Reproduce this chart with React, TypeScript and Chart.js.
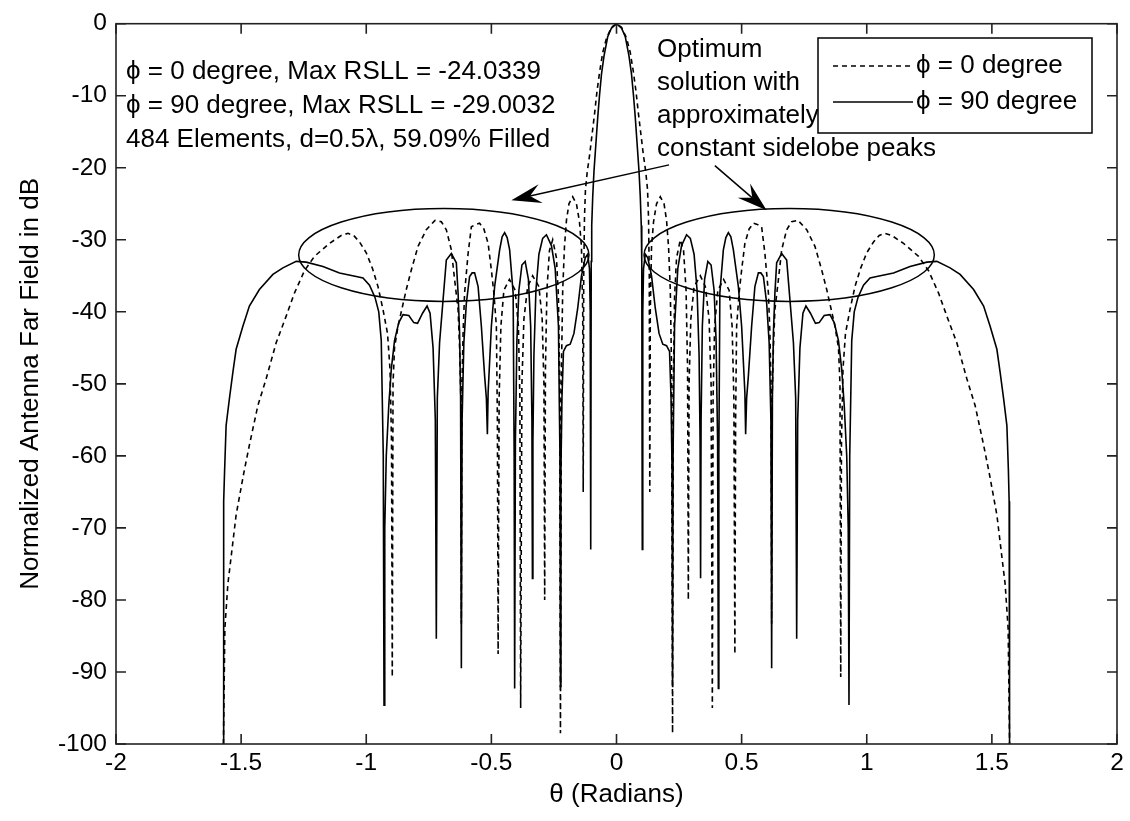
import React, { useEffect, useRef } from 'react';
import { Chart, registerables } from 'chart.js';

Chart.register(...registerables);

// ---- Data (right half, theta >= 0; the pattern is symmetric about theta = 0) ----
const thetaPhi0: number[] = [
  0, 0.02, 0.04, 0.055, 0.067, 0.078, 0.087, 0.097, 0.107, 0.117, 0.124, 0.128, 0.131, 0.133,
  0.135, 0.14, 0.148, 0.16, 0.175, 0.19, 0.2, 0.208, 0.215, 0.22, 0.224,
  0.227, 0.232, 0.24, 0.255, 0.268, 0.278, 0.284, 0.287,
  0.29, 0.297, 0.31, 0.335, 0.355, 0.37, 0.378, 0.383,
  0.386, 0.392, 0.405, 0.428, 0.45, 0.462, 0.469, 0.473,
  0.476, 0.48, 0.49, 0.5, 0.513, 0.53, 0.547, 0.565, 0.58, 0.593, 0.607, 0.613, 0.618, 0.62,
  0.622, 0.627, 0.633, 0.647, 0.66, 0.68, 0.7, 0.725, 0.76, 0.793, 0.82, 0.84, 0.873, 0.887, 0.893, 0.896,
  0.899, 0.905, 0.915, 0.933, 0.953, 0.975, 1.0, 1.027, 1.05, 1.073, 1.1, 1.147, 1.207, 1.247, 1.287,
  1.32, 1.36, 1.4, 1.433, 1.467, 1.49, 1.52, 1.553, 1.565, 1.5708,
];
const dbPhi0: number[] = [
  0, -0.5, -2, -4, -6.6, -9.4, -12.3, -15.2, -18.1, -20.6, -23, -27, -35, -65,
  -40, -31, -27.5, -25, -24.03, -25, -27.3, -31, -37, -48, -98.5,
  -50, -38, -32.5, -30, -31.5, -37, -48, -80,
  -50, -41, -36.5, -35, -36.5, -41, -50, -95,
  -52, -42, -37, -35.5, -37, -42, -52, -87.5,
  -55, -42, -37.4, -34.2, -30.5, -28.5, -27.7, -27.9, -28.2, -31.9, -37.4, -42.9, -51, -83.3,
  -52, -45, -39.7, -35.5, -31.4, -28.6, -27.5, -27.3, -28.6, -30.9, -34.2, -36.9, -42, -45, -50, -90.7,
  -58, -48, -43, -39.7, -36.5, -34, -31.8, -30.3, -29.4, -29.1, -29.4, -30.5, -32.3, -34.3, -37.4,
  -40.6, -44.3, -49.3, -53, -58.5, -62.5, -68.2, -77.8, -84, -100,
];
const thetaPhi90: number[] = [
  0, 0.02, 0.035, 0.05, 0.06, 0.068, 0.075, 0.082, 0.09, 0.095, 0.099, 0.101, 0.103,
  0.105, 0.108, 0.115, 0.125, 0.14, 0.155, 0.17, 0.185, 0.2, 0.212, 0.218, 0.222, 0.224,
  0.226, 0.232, 0.245, 0.26, 0.28, 0.295, 0.31, 0.322, 0.33, 0.334, 0.336,
  0.338, 0.343, 0.352, 0.365, 0.378, 0.39, 0.398, 0.404, 0.407,
  0.409, 0.413, 0.427, 0.437, 0.447, 0.457, 0.467, 0.487, 0.5, 0.513, 0.516,
  0.52, 0.527, 0.54, 0.553, 0.567, 0.577, 0.587, 0.6, 0.61, 0.617, 0.62,
  0.623, 0.627, 0.633, 0.64, 0.66, 0.68, 0.693, 0.707, 0.716, 0.72,
  0.724, 0.733, 0.745, 0.757, 0.775, 0.795, 0.81, 0.83, 0.853, 0.87, 0.887, 0.9, 0.91, 0.92, 0.926, 0.929,
  0.932, 0.94, 0.95, 0.965, 0.987, 1.013, 1.04, 1.107, 1.173, 1.24, 1.28, 1.333, 1.373, 1.427,
  1.467, 1.493, 1.52, 1.533, 1.547, 1.56, 1.566, 1.569, 1.5705, 1.5708,
];
const dbPhi90: number[] = [
  0, -0.6, -1.8, -4.5, -7, -10, -13, -16.5, -20.5, -24, -28, -33, -73,
  -40, -34, -32, -32.5, -35, -39.5, -43, -44.5, -44.7, -45.5, -52, -62, -92,
  -60, -42, -34, -30.8, -29.3, -29.8, -32, -37, -46, -58, -77,
  -55, -42, -35.5, -33, -33.5, -37, -44, -58, -92.3,
  -60, -37.4, -31.4, -29.7, -29, -29.6, -31.4, -36.5, -42, -51.2, -57,
  -52, -48.9, -42, -36.5, -34.6, -34.6, -35.1, -38.8, -44.3, -55, -89.5,
  -52, -42.9, -37.4, -33.2, -31.9, -32.8, -38.3, -44.3, -52, -85.4,
  -55, -45, -40.2, -39.2, -40.2, -41.6, -41.5, -40.5, -40.4, -41.5, -44, -48, -53, -60, -70, -94.6,
  -60, -44, -40, -38, -36.3, -35.3, -35.1, -34.6, -33.7, -33.1, -33, -33.9, -34.8, -36.9,
  -39.2, -42, -45.2, -48.4, -52.1, -55.8, -62, -66.3, -80, -100,
];

const xTickValues: number[] = [-2, -1.5, -1, -0.5, 0, 0.5, 1, 1.5, 2];
const yTickValues: number[] = [0, -10, -20, -30, -40, -50, -60, -70, -80, -90, -100];
const seriesLabels: string[] = ['ϕ = 0 degree', 'ϕ = 90 degree'];
const xTitle = 'θ (Radians)';
const yTitle = 'Normalized Antenna Far Field in dB';
const infoLines: string[] = [
  'ϕ = 0 degree, Max RSLL = -24.0339',
  'ϕ = 90 degree, Max RSLL = -29.0032',
  '484 Elements, d=0.5λ, 59.09% Filled',
];
const noteLines: string[] = ['Optimum', 'solution with', 'approximately', 'constant sidelobe peaks'];

// annotation geometry in data units (theta, dB)
const ellipseCenterTheta: number[] = [-0.69, 0.69];
const ellipseCenterDb = -32.1;
const ellipseHalfTheta = 0.58;
const ellipseHalfDb = 6.45;
const arrowFromTheta: number[] = [0.21, 0.393];
const arrowFromDb: number[] = [-19.6, -19.7];
const arrowToTheta: number[] = [-0.42, 0.6];
const arrowToDb: number[] = [-24.5, -25.9];

const FONT = '"Liberation Sans", Arial, "DejaVu Sans", sans-serif';
const TICK_FS = 24.5;
const TEXT_FS = 26;
const TITLE_FS = 26;
const INK = '#000';

function mirrored(xs: number[], ys: number[]) {
  const pts: { x: number; y: number }[] = [];
  for (let i = xs.length - 1; i >= 1; i--) pts.push({ x: -xs[i], y: ys[i] });
  for (let i = 0; i < xs.length; i++) pts.push({ x: xs[i], y: ys[i] });
  return pts;
}

const matlabPlugin = {
  id: 'matlabDecor',
  afterDatasetsDraw(chart: any) {
    const { ctx, chartArea: a, scales } = chart;
    const xs = scales.x;
    const ys = scales.y;
    const X = (v: number) => xs.getPixelForValue(v);
    const Y = (v: number) => ys.getPixelForValue(v);
    ctx.save();

    // ellipses
    ctx.strokeStyle = INK;
    ctx.lineWidth = 1.5;
    for (let i = 0; i < ellipseCenterTheta.length; i++) {
      const cx = X(ellipseCenterTheta[i]);
      const cy = Y(ellipseCenterDb);
      const rx = Math.abs(X(ellipseCenterTheta[i] + ellipseHalfTheta) - cx);
      const ry = Math.abs(Y(ellipseCenterDb + ellipseHalfDb) - cy);
      ctx.beginPath();
      ctx.ellipse(cx, cy, rx, ry, 0, 0, Math.PI * 2);
      ctx.stroke();
    }

    // arrows
    for (let i = 0; i < arrowFromTheta.length; i++) {
      const x0 = X(arrowFromTheta[i]);
      const y0 = Y(arrowFromDb[i]);
      const x1 = X(arrowToTheta[i]);
      const y1 = Y(arrowToDb[i]);
      const dx = x1 - x0;
      const dy = y1 - y0;
      const len = Math.hypot(dx, dy);
      const ux = dx / len;
      const uy = dy / len;
      const nx = -uy;
      const ny = ux;
      const L = 30;
      const W = 9.5;
      const N = 19;
      ctx.beginPath();
      ctx.moveTo(x0, y0);
      ctx.lineTo(x1 - ux * N, y1 - uy * N);
      ctx.lineWidth = 1.5;
      ctx.stroke();
      ctx.beginPath();
      ctx.moveTo(x1, y1);
      ctx.lineTo(x1 - ux * L + nx * W, y1 - uy * L + ny * W);
      ctx.lineTo(x1 - ux * N, y1 - uy * N);
      ctx.lineTo(x1 - ux * L - nx * W, y1 - uy * L - ny * W);
      ctx.closePath();
      ctx.fillStyle = INK;
      ctx.fill();
    }

    // text blocks
    ctx.fillStyle = INK;
    ctx.font = `${TEXT_FS}px ${FONT}`;
    ctx.textAlign = 'left';
    ctx.textBaseline = 'middle';
    infoLines.forEach((t, i) => ctx.fillText(t, a.left + 10, 72 + i * 34));
    noteLines.forEach((t, i) => ctx.fillText(t, 657, 50 + i * 32.8));

    // legend box
    const bx = 818, by = 38, bw = 274, bh = 95;
    ctx.fillStyle = '#fff';
    ctx.fillRect(bx, by, bw, bh);
    ctx.strokeStyle = INK;
    ctx.lineWidth = 1.5;
    ctx.strokeRect(bx, by, bw, bh);
    const rows = [66, 102];
    chart.data.datasets.forEach((ds: any, i: number) => {
      ctx.beginPath();
      ctx.setLineDash(ds.borderDash || []);
      ctx.lineWidth = ds.borderWidth;
      ctx.moveTo(833, rows[i]);
      ctx.lineTo(913, rows[i]);
      ctx.stroke();
      ctx.setLineDash([]);
      ctx.fillStyle = INK;
      ctx.fillText(ds.label, 916, rows[i]);
    });

    // axis titles
    ctx.font = `${TITLE_FS}px ${FONT}`;
    ctx.textAlign = 'center';
    ctx.fillText(xTitle, X(0), 795);
    ctx.save();
    ctx.translate(31, (a.top + a.bottom) / 2);
    ctx.rotate(-Math.PI / 2);
    ctx.fillText(yTitle, 0, 0);
    ctx.restore();

    ctx.restore();
  },
  afterDraw(chart: any) {
    const { ctx, chartArea: a, scales } = chart;
    ctx.save();
    ctx.strokeStyle = '#222';
    ctx.lineWidth = 1.6;
    ctx.strokeRect(a.left, a.top, a.right - a.left, a.bottom - a.top);
    const T = 10;
    ctx.beginPath();
    xTickValues.forEach((v) => {
      const px = scales.x.getPixelForValue(v);
      ctx.moveTo(px, a.bottom);
      ctx.lineTo(px, a.bottom - T);
      ctx.moveTo(px, a.top);
      ctx.lineTo(px, a.top + T);
    });
    yTickValues.forEach((v) => {
      const py = scales.y.getPixelForValue(v);
      ctx.moveTo(a.left, py);
      ctx.lineTo(a.left + T, py);
      ctx.moveTo(a.right, py);
      ctx.lineTo(a.right - T, py);
    });
    ctx.stroke();
    ctx.restore();
  },
};

export default function App() {
  const ref = useRef<HTMLCanvasElement>(null);
  useEffect(() => {
    const canvas = ref.current;
    if (!canvas) return;
    const chart = new Chart(canvas, {
      type: 'line',
      data: {
        datasets: [
          {
            label: seriesLabels[0],
            data: mirrored(thetaPhi0, dbPhi0),
            borderColor: INK,
            borderWidth: 1.6,
            borderDash: [5, 4],
            pointRadius: 0,
            tension: 0,
            fill: false,
          },
          {
            label: seriesLabels[1],
            data: mirrored(thetaPhi90, dbPhi90),
            borderColor: INK,
            borderWidth: 1.6,
            pointRadius: 0,
            tension: 0,
            fill: false,
          },
        ],
      },
      options: {
        responsive: false,
        animation: false,
        events: [],
        layout: { padding: { top: 19, right: 13, left: 0, bottom: 0 } },
        plugins: { legend: { display: false }, tooltip: { enabled: false }, title: { display: false } },
        scales: {
          x: {
            type: 'linear',
            min: -2,
            max: 2,
            grid: { display: false, drawTicks: false },
            border: { display: false },
            afterFit: (s: any) => { s.height = 77; },
            afterBuildTicks: (s: any) => { s.ticks = xTickValues.map((v) => ({ value: v })); },
            ticks: {
              autoSkip: false,
              maxRotation: 0,
              padding: 5,
              color: INK,
              font: { family: FONT, size: TICK_FS },
              callback: (v: any) => String(v),
            },
          },
          y: {
            type: 'linear',
            min: -100,
            max: 0,
            grid: { display: false, drawTicks: false },
            border: { display: false },
            afterFit: (s: any) => { s.width = 116; },
            afterBuildTicks: (s: any) => { s.ticks = yTickValues.map((v) => ({ value: v })); },
            ticks: {
              autoSkip: false,
              padding: 9,
              color: INK,
              font: { family: FONT, size: TICK_FS },
              callback: (v: any) => String(v),
            },
          },
        },
      },
      plugins: [matlabPlugin],
    } as any);
    return () => chart.destroy();
  }, []);
  return (
    <div style={{ position: 'absolute', left: 0, top: 0, width: 1130, height: 821, background: '#fff' }}>
      <canvas ref={ref} width={1130} height={821} style={{ display: 'block', width: 1130, height: 821 }} />
    </div>
  );
}
